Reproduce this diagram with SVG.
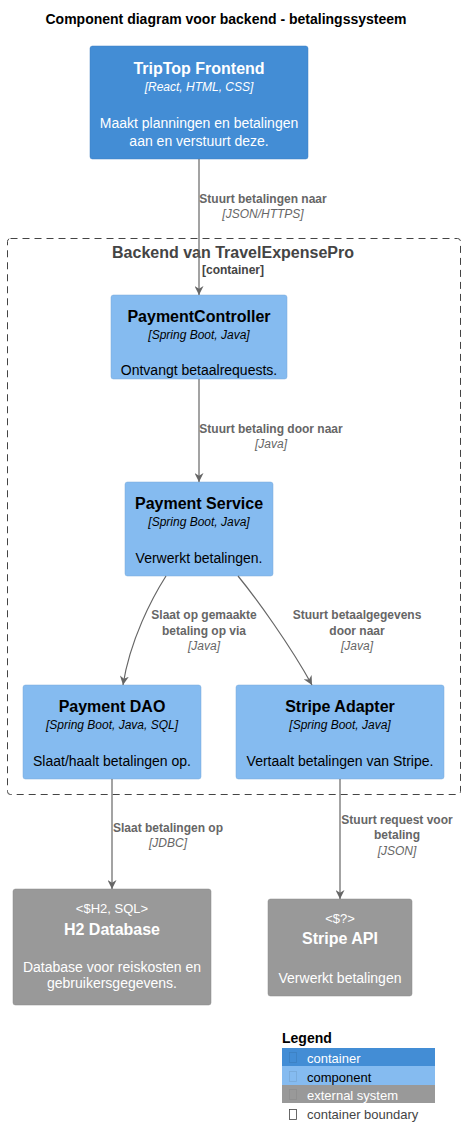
<svg xmlns="http://www.w3.org/2000/svg" width="465" height="1148" viewBox="0 0 465 1148">
<style>
text{font-family:"Liberation Sans",Arial,sans-serif;}
.t{font-size:16px;font-weight:bold;text-anchor:middle}
.tech{font-size:12px;font-style:italic;text-anchor:middle}
.d{font-size:14px;text-anchor:middle}
.w{fill:#FFFFFF}
.k{fill:#000000}
.lb{font-size:12px;font-weight:bold;fill:#666666;text-anchor:middle}
.li{font-size:12px;font-style:italic;fill:#666666;text-anchor:middle}
.edge{fill:none;stroke:#666666;stroke-width:1.2}
.lg{font-size:13px}
</style>
<defs>
<marker id="ah" viewBox="0 0 10 10" refX="10" refY="5" markerWidth="9" markerHeight="9" markerUnits="userSpaceOnUse" orient="auto">
<path d="M0,0 L10,5 L0,10 L3,5 Z" fill="#666666"/>
</marker>
</defs>
<rect width="465" height="1148" fill="#FFFFFF"/>
<text x="226" y="24" font-size="14" font-weight="bold" text-anchor="middle" fill="#000000">Component diagram voor backend - betalingssysteem</text>

<g id="boundary">
<rect x="7.5" y="238.5" width="453" height="556" rx="3" fill="none" stroke="#444444" stroke-width="1" stroke-dasharray="7,5"/>
<text x="233" y="258" font-size="16" font-weight="bold" fill="#444444" text-anchor="middle">Backend van TravelExpensePro</text>
<text x="233" y="274" font-size="12" font-weight="bold" fill="#444444" text-anchor="middle">[container]</text>
</g>

<g id="frontend">
<rect x="90" y="46" width="218" height="113" rx="2.5" fill="#438DD5" stroke="#3C7FC0" stroke-width="0.5"/>
<text x="199" y="74" class="t w">TripTop Frontend</text>
<text x="199" y="91" class="tech w">[React, HTML, CSS]</text>
<text x="199" y="128" class="d w">Maakt planningen en betalingen</text>
<text x="199" y="146" class="d w">aan en verstuurt deze.</text>
</g>

<g id="paymentcontroller">
<rect x="111" y="295" width="176" height="84" rx="2.5" fill="#85BBF0" stroke="#78A8D8" stroke-width="0.5"/>
<text x="199" y="322" class="t k">PaymentController</text>
<text x="199" y="339" class="tech k">[Spring Boot, Java]</text>
<text x="199" y="375" class="d k">Ontvangt betaalrequests.</text>
</g>

<g id="paymentservice">
<rect x="125" y="482" width="148" height="94" rx="2.5" fill="#85BBF0" stroke="#78A8D8" stroke-width="0.5"/>
<text x="199" y="509" class="t k">Payment Service</text>
<text x="199" y="526" class="tech k">[Spring Boot, Java]</text>
<text x="199" y="563" class="d k">Verwerkt betalingen.</text>
</g>

<g id="paymentdao">
<rect x="23" y="685" width="178" height="94" rx="2.5" fill="#85BBF0" stroke="#78A8D8" stroke-width="0.5"/>
<text x="112" y="712" class="t k">Payment DAO</text>
<text x="112" y="729" class="tech k">[Spring Boot, Java, SQL]</text>
<text x="112" y="766" class="d k">Slaat/haalt betalingen op.</text>
</g>

<g id="stripeadapter">
<rect x="236" y="685" width="208" height="94" rx="2.5" fill="#85BBF0" stroke="#78A8D8" stroke-width="0.5"/>
<text x="340" y="712" class="t k">Stripe Adapter</text>
<text x="340" y="729" class="tech k">[Spring Boot, Java]</text>
<text x="340" y="766" class="d k">Vertaalt betalingen van Stripe.</text>
</g>

<g id="h2database">
<rect x="13" y="889" width="198" height="116" rx="2.5" fill="#999999" stroke="#8A8A8A" stroke-width="0.5"/>
<text x="112" y="913" font-size="13" class="w" text-anchor="middle">&lt;$H2, SQL&gt;</text>
<text x="112" y="935" class="t w">H2 Database</text>
<text x="112" y="972" class="d w">Database voor reiskosten en</text>
<text x="112" y="988" class="d w">gebruikersgegevens.</text>
</g>

<g id="stripeapi">
<rect x="268" y="899" width="144" height="97" rx="2.5" fill="#999999" stroke="#8A8A8A" stroke-width="0.5"/>
<text x="340" y="923" font-size="13" class="w" text-anchor="middle">&lt;$?&gt;</text>
<text x="340" y="944" class="t w">Stripe API</text>
<text x="340" y="983" class="d w">Verwerkt betalingen</text>
</g>

<g id="connectors">
<path class="edge" d="M199,159 L199,295" marker-end="url(#ah)"/>
<text x="263" y="203" class="lb">Stuurt betalingen naar</text>
<text x="263" y="218" class="li">[JSON/HTTPS]</text>

<path class="edge" d="M199,379 L199,482" marker-end="url(#ah)"/>
<text x="271" y="433" class="lb">Stuurt betaling door naar</text>
<text x="271" y="448" class="li">[Java]</text>

<path class="edge" d="M166,576 C152,598 130,640 123,685" marker-end="url(#ah)"/>
<text x="204" y="619" class="lb">Slaat op gemaakte</text>
<text x="204" y="635" class="lb">betaling op via</text>
<text x="204" y="650" class="li">[Java]</text>

<path class="edge" d="M238,576 C256,598 290,645 312,685" marker-end="url(#ah)"/>
<text x="357" y="619" class="lb">Stuurt betaalgegevens</text>
<text x="357" y="635" class="lb">door naar</text>
<text x="357" y="650" class="li">[Java]</text>

<path class="edge" d="M112,779 L112,889" marker-end="url(#ah)"/>
<text x="168" y="832" class="lb">Slaat betalingen op</text>
<text x="168" y="847" class="li">[JDBC]</text>

<path class="edge" d="M340,779 L340,899" marker-end="url(#ah)"/>
<text x="397" y="824" class="lb">Stuurt request voor</text>
<text x="397" y="839" class="lb">betaling</text>
<text x="397" y="855" class="li">[JSON]</text>
</g>

<g id="legend">
<text x="282" y="1043" font-size="14" font-weight="bold" fill="#000000">Legend</text>
<rect x="282" y="1048" width="153" height="18" fill="#438DD5"/>
<rect x="282" y="1066" width="153" height="19" fill="#85BBF0"/>
<rect x="282" y="1085" width="153" height="18" fill="#999999"/>
<rect x="289.5" y="1052.5" width="7" height="10" fill="none" stroke="#3C7FC0" stroke-width="0.8"/>
<rect x="289.5" y="1071.5" width="7" height="10" fill="none" stroke="#78A8D8" stroke-width="0.8"/>
<rect x="289.5" y="1089.5" width="7" height="10" fill="none" stroke="#8E8E8E" stroke-width="0.8"/>
<rect x="289.5" y="1109.5" width="7" height="10" fill="none" stroke="#444444" stroke-width="0.8"/>
<text x="307" y="1063" class="lg" fill="#FFFFFF">container</text>
<text x="307" y="1082" class="lg" fill="#000000">component</text>
<text x="307" y="1100" class="lg" fill="#FFFFFF">external system</text>
<text x="307" y="1119" class="lg" fill="#444444">container boundary</text>
</g>
</svg>
